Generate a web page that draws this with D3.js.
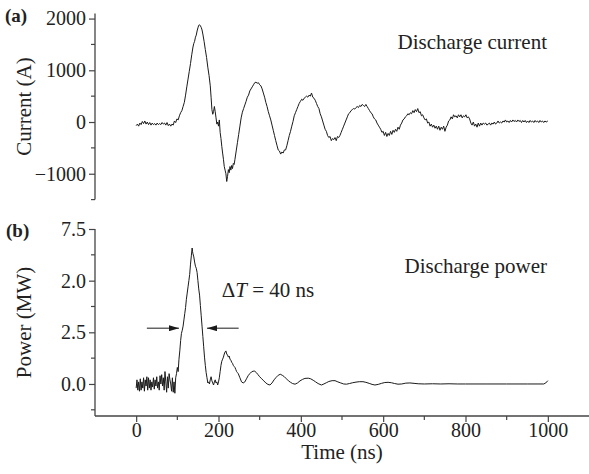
<!DOCTYPE html>
<html>
<head>
<meta charset="utf-8">
<script src="https://cdn.jsdelivr.net/npm/d3@7"></script>
<style>
  body { margin: 0; background: #fff; }
  svg text { font-family: "Liberation Serif", "Times New Roman", serif; fill: #222; }
</style>
</head>
<body>
<svg width="589" height="474"></svg>
<script>
// time in ns, current in A
var currentData = [
  [0,-70],[3,-40],[6,-80],[9,-20],[12,-50],[15,10],[18,-30],[21,20],[24,-40],[27,0],[30,-50],[33,-10],
  [36,-60],[39,-20],[42,-50],[45,-30],[48,-60],[51,-20],[54,-50],[57,-30],[60,-50],[63,-10],[66,-40],
  [69,-20],[72,-60],[75,-10],[78,-70],[81,-40],[84,-80],[87,-40],[90,-60],[93,20],[96,-10],[99,60],
  [102,40],[105,120],[108,180],[111,220],[114,300],[117,380],[120,520],[123,680],[126,830],[129,980],
  [132,1130],[135,1300],[138,1450],[140,1520],[142,1560],[144,1640],[146,1680],[148,1760],[150,1820],
  [152,1870],[154,1880],[156,1860],[158,1830],[160,1780],[162,1700],[165,1560],[168,1400],[171,1250],
  [174,1060],[177,900],[180,700],[182,480],[184,240],[186,150],[188,200],[190,300],[192,200],[194,80],
  [196,-40],[198,0],[200,-80],[202,40],[204,-200],[206,-320],[208,-470],[210,-600],[212,-720],[214,-860],
  [216,-930],[218,-1000],[220,-1150],[222,-1050],[224,-920],[226,-980],[228,-860],[230,-930],[232,-840],
  [234,-900],[236,-800],[238,-820],[240,-720],[243,-560],[246,-400],[249,-240],[252,-80],[255,80],
  [258,190],[261,260],[264,330],[267,400],[270,480],[273,520],[276,600],[279,640],[282,680],[285,720],
  [288,760],[291,770],[294,750],[297,760],[300,720],[303,700],[306,640],[309,560],[312,480],[315,380],
  [318,300],[321,200],[324,120],[327,40],[330,-60],[333,-160],[336,-260],[339,-360],[342,-450],[345,-540],
  [348,-560],[351,-620],[354,-580],[357,-600],[360,-540],[363,-540],[366,-460],[369,-360],[372,-260],
  [375,-180],[378,-80],[381,10],[384,120],[387,180],[390,240],[393,300],[396,360],[399,400],[402,440],
  [405,420],[408,460],[411,480],[414,500],[417,480],[420,520],[423,500],[426,560],[429,480],[432,460],
  [435,420],[438,360],[441,300],[444,260],[447,160],[450,100],[453,20],[456,-60],[459,-140],[462,-180],
  [465,-260],[468,-300],[471,-280],[474,-360],[477,-320],[480,-340],[483,-300],[486,-360],[489,-280],
  [492,-300],[495,-260],[498,-200],[501,-140],[504,-80],[507,-20],[510,40],[513,100],[516,160],[519,180],
  [522,220],[525,240],[528,260],[531,250],[534,280],[537,300],[540,280],[543,320],[546,300],[549,340],
  [552,320],[555,300],[558,340],[561,300],[564,260],[567,220],[570,180],[573,160],[576,100],[579,60],
  [582,40],[585,-20],[588,-60],[591,-100],[594,-140],[597,-200],[600,-180],[603,-260],[606,-200],
  [609,-280],[612,-220],[615,-260],[618,-180],[621,-240],[624,-160],[627,-200],[630,-140],[633,-180],
  [636,-100],[639,-140],[642,-60],[645,-20],[648,40],[651,60],[654,100],[657,120],[660,160],[663,140],
  [666,180],[669,160],[672,220],[675,180],[678,240],[681,200],[684,260],[687,180],[690,200],[693,120],
  [696,140],[699,80],[702,40],[705,60],[708,-20],[711,0],[714,-80],[717,-40],[720,-100],[723,-60],
  [726,-120],[729,-80],[732,-140],[735,-80],[738,-160],[741,-100],[744,-140],[747,-80],[750,-180],
  [753,-100],[756,-60],[759,20],[762,40],[765,100],[768,60],[771,140],[774,100],[777,120],[780,80],
  [783,140],[786,100],[789,140],[792,80],[795,120],[798,100],[801,140],[804,80],[807,100],[810,60],
  [813,-20],[816,-60],[819,0],[822,-80],[825,-40],[828,-100],[831,-20],[834,-80],[837,-20],[840,-60],
  [843,-20],[846,-40],[849,-20],[852,-60],[855,-40],[858,-20],[861,-60],[864,-20],[867,-40],[870,0],
  [873,-40],[876,-20],[879,20],[882,-20],[885,0],[888,-20],[891,20],[894,0],[897,40],[900,0],[903,20],
  [906,-10],[909,30],[912,0],[915,40],[918,10],[921,30],[924,0],[927,40],[930,10],[933,30],[936,-10],
  [939,30],[942,0],[945,30],[948,-10],[951,20],[954,-10],[957,30],[960,0],[963,20],[966,-10],[969,30],
  [972,0],[975,20],[978,-10],[981,30],[984,0],[987,20],[990,-10],[993,20],[996,0],[1000,20]
];

// time in ns, power in MW
var powerData = [
  [0,-0.2],[2,0.2],[4,-0.3],[6,0.1],[8,-0.35],[10,0.25],[12,-0.3],[14,0.1],[16,-0.2],[18,0.3],[20,-0.35],
  [22,0.2],[24,-0.1],[26,0.35],[28,-0.3],[30,0.3],[32,-0.2],[34,0.2],[36,-0.3],[38,0.1],[40,-0.15],
  [42,0.3],[44,-0.25],[46,0.2],[48,-0.1],[50,0.35],[52,-0.2],[54,0.1],[56,-0.3],[58,0.4],[60,0.0],
  [62,0.45],[64,-0.1],[66,0.3],[68,-0.3],[70,0.6],[72,0.1],[74,-0.4],[76,0.35],[78,-0.2],[80,0.5],
  [82,0.2],[84,0.0],[86,-0.35],[88,0.3],[90,-0.4],[92,0.1],[94,-0.45],[96,0.3],[98,0.5],[100,0.8],
  [102,0.6],[104,1.2],[106,1.6],[108,2.1],[110,2.45],[112,2.6],[114,2.8],[116,3.1],[118,3.4],[120,3.7],
  [122,4.1],[124,4.4],[126,4.7],[128,5.0],[130,5.3],[132,5.8],[134,6.2],[136,6.58],[137,6.4],[138,6.3],
  [140,6.15],[142,5.9],[144,5.7],[146,5.6],[148,5.4],[150,5.0],[152,4.6],[154,4.3],[156,3.8],[158,3.3],
  [160,2.8],[162,2.3],[164,1.8],[166,1.3],[168,0.9],[170,0.55],[172,0.3],[174,0.05],[176,0.1],[178,0.0],
  [180,0.2],[182,0.35],[184,0.15],[186,0.05],[188,-0.05],[190,0.1],[192,0.2],[194,0.05],[196,0.1],
  [198,-0.05],[200,0.1],[202,0.3],[204,0.6],[206,0.9],[208,1.1],[210,1.2],[212,1.3],[214,1.45],
  [216,1.55],[218,1.6],[220,1.45],[222,1.4],[224,1.3],[226,1.35],[228,1.2],[230,1.15],[232,1.05],
  [234,1.0],[236,0.9],[238,0.85],[240,0.8],[242,0.7],[244,0.6],[246,0.55],[248,0.5],[252,0.3],[256,0.1],
  [260,0.05],[264,0.1],[268,0.25],[272,0.4],[276,0.5],[280,0.58],[284,0.62],[288,0.62],[292,0.55],
  [296,0.45],[300,0.35],[305,0.25],[310,0.15],[315,0.05],[320,-0.02],[325,-0.05],[330,0.05],[335,0.2],
  [340,0.32],[345,0.42],[350,0.47],[355,0.42],[360,0.35],[365,0.25],[370,0.15],[375,0.08],[380,0.02],
  [386,-0.01],[392,0.05],[398,0.15],[404,0.22],[410,0.27],[418,0.28],[424,0.25],[430,0.18],[436,0.1],
  [442,0.02],[450,-0.05],[456,0.0],[462,0.06],[468,0.12],[476,0.16],[483,0.16],[490,0.1],[497,0.05],
  [504,0.0],[511,-0.01],[518,0.02],[526,0.06],[534,0.09],[542,0.11],[551,0.11],[558,0.08],[566,0.03],
  [573,-0.02],[580,-0.05],[588,-0.02],[596,0.03],[604,0.07],[612,0.08],[620,0.06],[628,0.02],[636,-0.01],
  [645,0.0],[655,0.04],[665,0.05],[675,0.03],[685,0.01],[700,0.0],[720,0.01],[740,0.0],[760,0.01],
  [780,0.0],[800,0.0],[850,0.0],[900,0.0],[950,0.0],[990,0.0],[995,0.05],[1000,0.16]
];

// tick values and the labels printed next to them
var timeTicks = [0, 200, 400, 600, 800, 1000];
var timeMinor = [100, 300, 500, 700, 900];
var currentTicks = [-1000, 0, 1000, 2000];
var currentLabels = ["\u22121000", "0", "1000", "2000"];
var currentMinor = [-1500, -500, 500, 1500];
var powerTicks = [0, 2.5, 5, 7.5];
var powerLabels = ["0.0", "2.5", "2.0", "7.5"];
var powerMinor = [-1.25, 1.25, 3.75, 6.25];

var svg = d3.select("svg");

var x = d3.scaleLinear().domain([-100, 1100]).range([95, 589]);
var yCur = d3.scaleLinear().domain([-1500, 2100]).range([199.6, 13.4]);
var yPow = d3.scaleLinear().domain([-1.55, 7.5]).range([416, 229]);

var axisColor = "#444";

// helper om een as met lange ticks en labels te tekenen
function drawAxis(g, axisFn, scale, ticks, labels, pad) {
    g.call(axisFn(scale).tickValues(ticks).tickSize(6).tickPadding(pad)
        .tickFormat(function (d, i) { return labels[i]; }));
    g.selectAll(".tick text").style("font-size", "20px").attr("fill", "#222");
    g.select(".domain").attr("stroke", axisColor).attr("stroke-width", 1.3);
    g.selectAll(".tick line").attr("stroke", axisColor).attr("stroke-width", 1.2);
}

// panel (a): current
var gA = svg.append("g").attr("transform", "translate(95,0)");
drawAxis(gA, d3.axisLeft, yCur, currentTicks, currentLabels, 3);
gA.select(".domain").attr("d", "M0," + yCur.range()[0] + "V" + yCur.range()[1]);
gA.selectAll(".minorTick").data(currentMinor).enter().append("line")
    .attr("x1", -4).attr("x2", 0)
    .attr("y1", function (d) { return yCur(d); })
    .attr("y2", function (d) { return yCur(d); })
    .attr("stroke", axisColor).attr("stroke-width", 1.2);

// panel (b): power
var gB = svg.append("g").attr("transform", "translate(95,0)");
drawAxis(gB, d3.axisLeft, yPow, powerTicks, powerLabels, 3);
gB.select(".domain").attr("d", "M0," + yPow.range()[0] + "V" + yPow.range()[1]);
gB.selectAll(".minorTick").data(powerMinor).enter().append("line")
    .attr("x1", -4).attr("x2", 0)
    .attr("y1", function (d) { return yPow(d); })
    .attr("y2", function (d) { return yPow(d); })
    .attr("stroke", axisColor).attr("stroke-width", 1.2);

// time axis at the bottom of panel (b)
var gX = svg.append("g").attr("transform", "translate(0,416)");
drawAxis(gX, d3.axisBottom, x, timeTicks, timeTicks.map(String), 1);
gX.select(".domain").attr("d", "M" + x.range()[0] + ",0H" + x.range()[1]);
gX.selectAll(".minorTick").data(timeMinor).enter().append("line")
    .attr("x1", function (d) { return x(d); })
    .attr("x2", function (d) { return x(d); })
    .attr("y1", 0).attr("y2", 4)
    .attr("stroke", axisColor).attr("stroke-width", 1.2);

// de lijnen zelf
var lineCur = d3.line()
    .x(function (d) { return x(d[0]); })
    .y(function (d) { return yCur(d[1]); });
var linePow = d3.line()
    .x(function (d) { return x(d[0]); })
    .y(function (d) { return yPow(d[1]); });

svg.append("path").datum(currentData)
    .attr("fill", "none").attr("stroke", "#1a1a1a").attr("stroke-width", 1)
    .attr("d", lineCur);
svg.append("path").datum(powerData)
    .attr("fill", "none").attr("stroke", "#1a1a1a").attr("stroke-width", 1)
    .attr("d", linePow);

// axis titles
svg.append("text")
    .attr("transform", "translate(31," + ((yCur.range()[0] + yCur.range()[1]) / 2) + ") rotate(-90)")
    .attr("text-anchor", "middle").style("font-size", "21px")
    .text("Current (A)");
svg.append("text")
    .attr("transform", "translate(31," + ((yPow.range()[0] + yPow.range()[1]) / 2) + ") rotate(-90)")
    .attr("text-anchor", "middle").style("font-size", "21px")
    .text("Power (MW)");
svg.append("text")
    .attr("x", (x.range()[0] + x.range()[1]) / 2).attr("y", 459)
    .attr("text-anchor", "middle").style("font-size", "21px")
    .text("Time (ns)");

// panel letters
svg.append("text").attr("x", 5).attr("y", 22)
    .style("font-size", "19px").style("font-weight", "bold").text("(a)");
svg.append("text").attr("x", 6).attr("y", 237)
    .style("font-size", "19px").style("font-weight", "bold").text("(b)");

// annotations
svg.append("text").attr("x", 547).attr("y", 49)
    .attr("text-anchor", "end").style("font-size", "21px")
    .text("Discharge current");
svg.append("text").attr("x", 547).attr("y", 273)
    .attr("text-anchor", "end").style("font-size", "21px")
    .text("Discharge power");

var dt = svg.append("text").attr("x", x(208)).attr("y", 297).style("font-size", "21px");
dt.append("tspan").text("\u0394");
dt.append("tspan").style("font-style", "italic").text("T");
dt.append("tspan").text(" = 40 ns");

// pijlen voor de halfwaardebreedte
svg.append("defs").append("marker")
    .attr("id", "head").attr("viewBox", "0 0 10 6")
    .attr("refX", 10).attr("refY", 3)
    .attr("markerWidth", 10).attr("markerHeight", 6)
    .attr("markerUnits", "userSpaceOnUse")
    .attr("orient", "auto")
    .append("path").attr("d", "M0,0L10,3L0,6Z").attr("fill", "#1a1a1a");

var arrowLevel = 2.7;
var arrows = [[26, 104], [249, 172]];
svg.selectAll(".arrow").data(arrows).enter().append("line")
    .attr("class", "arrow")
    .attr("x1", function (d) { return x(d[0]); })
    .attr("x2", function (d) { return x(d[1]); })
    .attr("y1", yPow(arrowLevel)).attr("y2", yPow(arrowLevel))
    .attr("stroke", "#1a1a1a").attr("stroke-width", 1)
    .attr("marker-end", "url(#head)");
</script>
</body>
</html>
